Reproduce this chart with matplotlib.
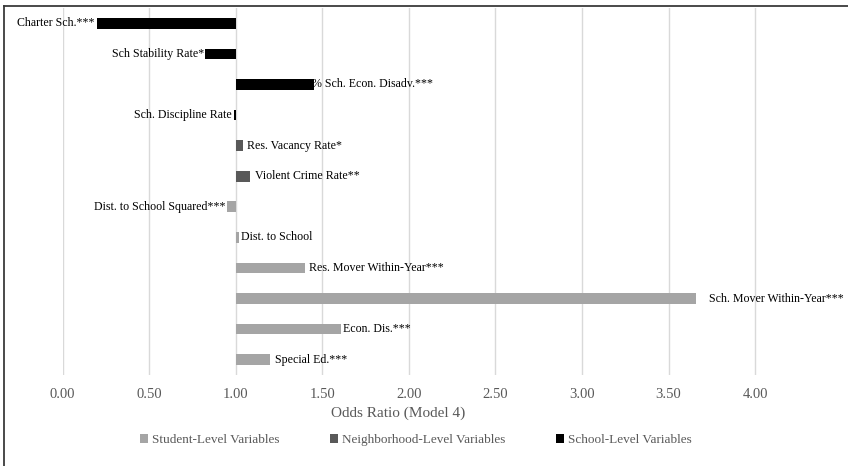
import matplotlib
matplotlib.use("Agg")
import matplotlib.pyplot as plt
from matplotlib.lines import Line2D
from matplotlib.patches import Patch

# Odds ratios (Model 4), listed top to bottom
variables = [
    "Charter Sch.***",
    "Sch Stability Rate*",
    "% Sch. Econ. Disadv.***",
    "Sch. Discipline Rate",
    "Res. Vacancy Rate*",
    "Violent Crime Rate**",
    "Dist. to School Squared***",
    "Dist. to School",
    "Res. Mover Within-Year***",
    "Sch. Mover Within-Year***",
    "Econ. Dis.***",
    "Special Ed.***",
]
odds_ratios = [0.20, 0.82, 1.45, 0.99, 1.04, 1.08, 0.95, 1.02, 1.40, 3.66, 1.61, 1.20]
levels = ["School", "School", "School", "School",
          "Neighborhood", "Neighborhood",
          "Student", "Student", "Student", "Student", "Student", "Student"]

level_names = ["Student", "Neighborhood", "School"]
legend_labels = ["Student-Level Variables", "Neighborhood-Level Variables",
                 "School-Level Variables"]
level_colors = {"Student": "#A5A5A5", "Neighborhood": "#595959", "School": "#000000"}

x_ticks = [0.0, 0.5, 1.0, 1.5, 2.0, 2.5, 3.0, 3.5, 4.0]
baseline = 1.0

# small horizontal nudges (pixels) for the data labels
label_gap_px = [3, 0, -2, 2, 4, 5, 2, 2, 3.6, 13, 1.3, 4.3]

plt.rcParams["font.family"] = ["Liberation Serif", "DejaVu Serif"]

W, H, DPI = 848, 466, 100
fig = plt.figure(figsize=(W / DPI, H / DPI), dpi=DPI)
ax = fig.add_axes([62.7 / W, (H - 375) / H, 779 / W, 367 / H])

n = len(variables)
ypos = list(range(n))
for y, v, lvl, gap in zip(ypos, odds_ratios, levels, label_gap_px):
    ax.barh(y, v - baseline, left=baseline, height=0.35,
            color=level_colors[lvl], zorder=3)
    if v >= baseline:
        ax.annotate(variables[y], xy=(v, y), xytext=(gap * 0.72, 0),
                    textcoords="offset points", ha="left", va="center",
                    fontsize=8.6, color="#000000", annotation_clip=False)
    else:
        ax.annotate(variables[y], xy=(v, y), xytext=(-gap * 0.72, 0),
                    textcoords="offset points", ha="right", va="center",
                    fontsize=8.6, color="#000000", annotation_clip=False)

ax.set_xlim(0, 4.5)
ax.set_ylim(n - 0.5, -0.5)
ax.set_yticks([])
ax.set_xticks(x_ticks)
ax.set_xticklabels([f"{t:.2f}" for t in x_ticks], fontsize=10.5, color="#595959")
ax.tick_params(axis="x", length=0, pad=9)
ax.grid(axis="x", color="#D9D9D9", linewidth=1, zorder=0)
for s in ax.spines.values():
    s.set_visible(False)

fig.text(398 / W, 1 - 413 / H, "Odds Ratio (Model 4)", ha="center", va="center",
         fontsize=11, color="#595959")

handles = [Patch(facecolor=level_colors[k], edgecolor="none") for k in level_names]
fig.legend(handles, legend_labels, loc="center", bbox_to_anchor=(416 / W, 1 - 440 / H),
           ncol=3, frameon=False, fontsize=9.5, labelcolor="#595959",
           handlelength=0.6, handleheight=0.6, handletextpad=0.3, columnspacing=3.85)

# chart frame
fig.add_artist(Line2D([4 / W, 4 / W], [0, 1 - 6 / H], color="#3A3A3A", linewidth=1.3))
fig.add_artist(Line2D([4 / W, 1], [1 - 6 / H, 1 - 6 / H], color="#3A3A3A", linewidth=1.3))

fig.savefig("out.png", dpi=DPI)
